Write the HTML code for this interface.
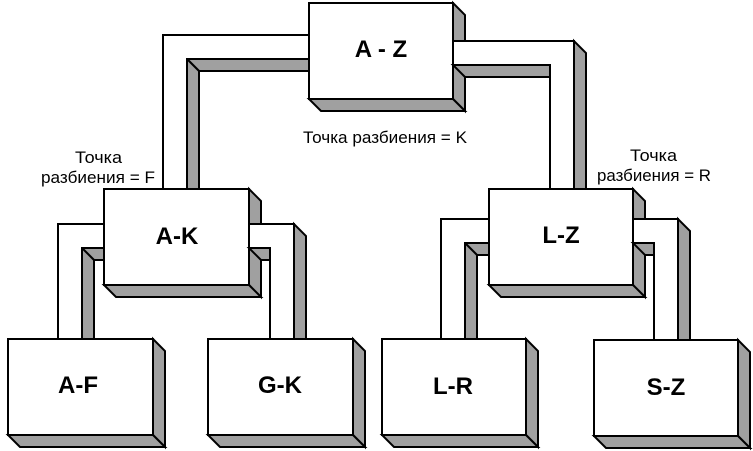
<!DOCTYPE html>
<html>
<head>
<meta charset="utf-8">
<style>
html,body{margin:0;padding:0;background:#ffffff;}
svg{display:block;}
text{font-family:"Liberation Sans", Arial, sans-serif;fill:#000;}
.g{fill:#a0a0a0;stroke:#000;stroke-width:2;stroke-linejoin:miter;}
.w{fill:#ffffff;stroke:#000;stroke-width:2;stroke-linejoin:miter;}
.lbl{font-size:24px;font-weight:bold;}
.sm{font-size:16.5px;}
</style>
</head>
<body>
<svg width="753" height="451" viewBox="0 0 753 451" xmlns="http://www.w3.org/2000/svg">
<rect x="0" y="0" width="753" height="451" fill="#ffffff"/>

<!-- Pipe 1: A-Z left -> A-K -->
<polygon class="g" points="187,59 309,59 321,71 199,71"/>
<polygon class="g" points="187,59 187,189 199,201 199,71"/>
<polygon class="w" points="309,35 163,35 163,189 187,189 187,59 309,59"/>

<!-- Box A-Z -->
<polygon class="g" points="453,3 465,15 465,111 453,99"/>
<polygon class="g" points="309,99 453,99 465,111 321,111"/>
<rect class="w" x="309" y="3" width="144" height="96"/>

<!-- Pipe 2: A-Z right -> L-Z -->
<polygon class="g" points="453,65 550,65 562,77 465,77"/>
<polygon class="g" points="574,41 574,189 586,201 586,53"/>
<polygon class="w" points="453,41 574,41 574,189 550,189 550,65 453,65"/>

<!-- Pipe 3: A-K left -> A-F -->
<polygon class="g" points="82,248 104,248 116,260 94,260"/>
<polygon class="g" points="82,248 82,339 94,351 94,260"/>
<polygon class="w" points="104,224 58,224 58,339 82,339 82,248 104,248"/>

<!-- Box A-K -->
<polygon class="g" points="249,189 261,201 261,297 249,285"/>
<polygon class="g" points="104,285 249,285 261,297 116,297"/>
<rect class="w" x="104" y="189" width="145" height="96"/>

<!-- Pipe 4: A-K right -> G-K -->
<polygon class="g" points="249,248 270,248 282,260 261,260"/>
<polygon class="g" points="294,224 294,339 306,351 306,236"/>
<polygon class="w" points="249,224 294,224 294,339 270,339 270,248 249,248"/>

<!-- Pipe 5: L-Z left -> L-R -->
<polygon class="g" points="465,243 489,243 501,255 477,255"/>
<polygon class="g" points="465,243 465,339 477,351 477,255"/>
<polygon class="w" points="489,219 441,219 441,339 465,339 465,243 489,243"/>

<!-- Box L-Z -->
<polygon class="g" points="633,189 645,201 645,297 633,285"/>
<polygon class="g" points="489,285 633,285 645,297 501,297"/>
<rect class="w" x="489" y="189" width="144" height="96"/>

<!-- Pipe 6: L-Z right -> S-Z -->
<polygon class="g" points="633,243 654,243 666,255 645,255"/>
<polygon class="g" points="678,219 678,340 690,352 690,231"/>
<polygon class="w" points="633,219 678,219 678,340 654,340 654,243 633,243"/>

<!-- Box A-F -->
<polygon class="g" points="153,339 165,351 165,447 153,435"/>
<polygon class="g" points="8,435 153,435 165,447 20,447"/>
<rect class="w" x="8" y="339" width="145" height="96"/>

<!-- Box G-K -->
<polygon class="g" points="353,339 365,351 365,447 353,435"/>
<polygon class="g" points="208,435 353,435 365,447 220,447"/>
<rect class="w" x="208" y="339" width="145" height="96"/>

<!-- Box L-R -->
<polygon class="g" points="526,339 538,351 538,447 526,435"/>
<polygon class="g" points="382,435 526,435 538,447 394,447"/>
<rect class="w" x="382" y="339" width="144" height="96"/>

<!-- Box S-Z -->
<polygon class="g" points="738,340 750,352 750,448 738,436"/>
<polygon class="g" points="594,436 738,436 750,448 606,448"/>
<rect class="w" x="594" y="340" width="144" height="96"/>

<!-- Box labels -->
<text class="lbl" x="381" y="57" text-anchor="middle">A - Z</text>
<text class="lbl" x="177" y="244" text-anchor="middle">A-K</text>
<text class="lbl" x="561" y="243" text-anchor="middle">L-Z</text>
<text class="lbl" x="78" y="393" text-anchor="middle">A-F</text>
<text class="lbl" x="280" y="393" text-anchor="middle">G-K</text>
<text class="lbl" x="453" y="394" text-anchor="middle">L-R</text>
<text class="lbl" x="666" y="395" text-anchor="middle">S-Z</text>

<!-- Split point labels -->
<text class="sm" x="303" y="143" textLength="164" lengthAdjust="spacingAndGlyphs">Точка разбиения = K</text>

<text class="sm" x="75" y="163" textLength="47" lengthAdjust="spacingAndGlyphs">Точка</text>
<text class="sm" x="41" y="183" textLength="114" lengthAdjust="spacingAndGlyphs">разбиения = F</text>

<text class="sm" x="630" y="161" textLength="47" lengthAdjust="spacingAndGlyphs">Точка</text>
<text class="sm" x="597" y="181" textLength="114" lengthAdjust="spacingAndGlyphs">разбиения = R</text>
</svg>
</body>
</html>
